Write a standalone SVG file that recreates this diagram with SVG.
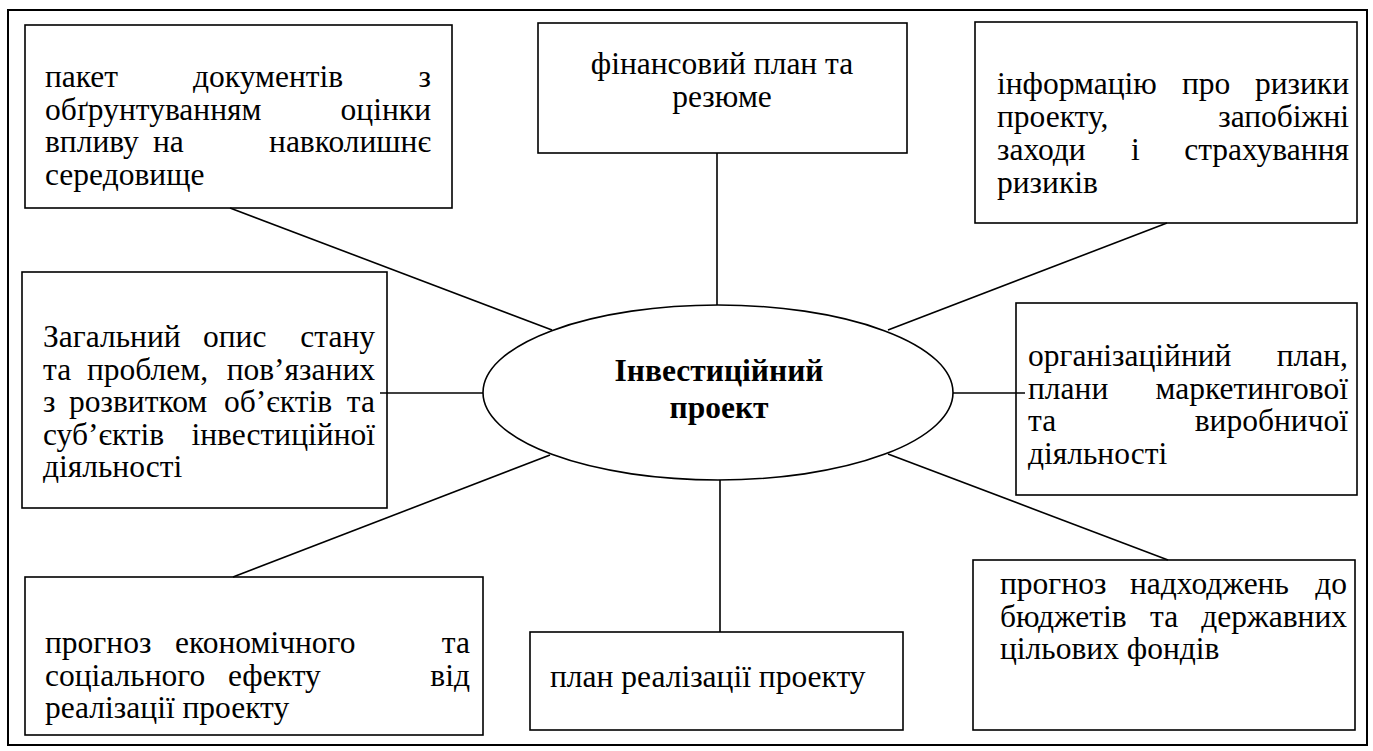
<svg xmlns="http://www.w3.org/2000/svg" width="1373" height="751" viewBox="0 0 1373 751">
<style>
.bx{fill:#fff;stroke:#000;stroke-width:1.6}
.ln{stroke:#000;stroke-width:1.6;fill:none}
.t{font-family:"Liberation Serif","Times New Roman",serif;font-size:31.5px;fill:#000}
.e{text-anchor:end}
.m{text-anchor:middle}
.b{font-family:"Liberation Serif","Times New Roman",serif;font-size:31.5px;font-weight:bold;fill:#000;text-anchor:middle}
</style>
<rect x="0" y="0" width="1373" height="751" fill="#fff"/>
<rect x="8" y="10" width="1359" height="735" fill="none" stroke="#000" stroke-width="2"/>
<g id="n1">
<rect class="bx" x="25" y="25" width="427" height="183"/>
<text class="t" x="45" y="87">пакет</text><text class="t" x="193" y="87">документів</text><text class="t e" x="431" y="87">з</text>
<text class="t" x="45" y="119.5">обґрунтуванням</text><text class="t e" x="431" y="119.5">оцінки</text>
<text class="t" x="45" y="152">впливу</text><text class="t" x="153" y="152">на</text><text class="t e" x="431" y="152">навколишнє</text>
<text class="t" x="45" y="184.5">середовище</text>
</g>
<g id="n2">
<rect class="bx" x="538" y="23" width="369" height="130"/>
<text class="t m" x="722" y="74">фінансовий план та</text>
<text class="t m" x="722" y="107">резюме</text>
</g>
<g id="n3">
<rect class="bx" x="975" y="22" width="382" height="201"/>
<text class="t" x="997" y="94">інформацію</text><text class="t" x="1182" y="94">про</text><text class="t e" x="1349" y="94">ризики</text>
<text class="t" x="997" y="127">проекту,</text><text class="t e" x="1349" y="127">запобіжні</text>
<text class="t" x="997" y="160">заходи</text><text class="t" x="1131" y="160">і</text><text class="t e" x="1349" y="160">страхування</text>
<text class="t" x="997" y="193">ризиків</text>
</g>
<g id="n4">
<rect class="bx" x="22" y="272" width="365" height="236"/>
<text class="t" x="43" y="347">Загальний</text><text class="t" x="203" y="347">опис</text><text class="t e" x="375" y="347">стану</text>
<text class="t" x="43" y="379.5">та</text><text class="t" x="87" y="379.5">проблем,</text><text class="t e" x="375" y="379.5">пов’язаних</text>
<text class="t" x="43" y="412">з</text><text class="t" x="69" y="412">розвитком</text><text class="t" x="224" y="412">об’єктів</text><text class="t e" x="375" y="412">та</text>
<text class="t" x="43" y="444.5">суб’єктів</text><text class="t e" x="375" y="444.5">інвестиційної</text>
<text class="t" x="43" y="477">діяльності</text>
</g>
<g id="center">
<ellipse cx="718" cy="392.5" rx="235" ry="87.5" fill="#fff" stroke="#000" stroke-width="1.6"/>
<text class="b" x="719" y="381">Інвестиційний</text>
<text class="b" x="719" y="418">проект</text>
</g>
<g id="n5">
<rect class="bx" x="1016" y="303" width="341" height="192"/>
<text class="t" x="1028" y="366">організаційний</text><text class="t e" x="1348" y="366">план,</text>
<text class="t" x="1028" y="398.5">плани</text><text class="t e" x="1348" y="398.5">маркетингової</text>
<text class="t" x="1028" y="431">та</text><text class="t e" x="1348" y="431">виробничої</text>
<text class="t" x="1028" y="463.5">діяльності</text>
</g>
<g id="n6">
<rect class="bx" x="25" y="577" width="458" height="158"/>
<text class="t" x="45" y="653">прогноз</text><text class="t" x="175" y="653">економічного</text><text class="t e" x="470" y="653">та</text>
<text class="t" x="45" y="685.5">соціального</text><text class="t" x="228" y="685.5">ефекту</text><text class="t e" x="470" y="685.5">від</text>
<text class="t" x="45" y="718">реалізації проекту</text>
</g>
<g id="n7">
<rect class="bx" x="530" y="632" width="373" height="98"/>
<text class="t" x="550" y="687">план реалізації проекту</text>
</g>
<g id="n8">
<rect class="bx" x="973" y="560" width="382" height="170"/>
<text class="t" x="1000" y="594">прогноз</text><text class="t" x="1130" y="594">надходжень</text><text class="t e" x="1347" y="594">до</text>
<text class="t" x="1000" y="626.5">бюджетів</text><text class="t" x="1150" y="626.5">та</text><text class="t e" x="1347" y="626.5">державних</text>
<text class="t" x="1000" y="659">цільових фондів</text>
</g>
<g id="connectors">
<line class="ln" x1="230" y1="208" x2="552" y2="330"/>
<line class="ln" x1="717" y1="153" x2="717" y2="305"/>
<line class="ln" x1="1167" y1="223" x2="888" y2="330"/>
<line class="ln" x1="380" y1="393" x2="483" y2="393"/>
<line class="ln" x1="953" y1="393" x2="1025" y2="393"/>
<line class="ln" x1="550" y1="455" x2="233" y2="577"/>
<line class="ln" x1="888" y1="454" x2="1168" y2="560"/>
<line class="ln" x1="720" y1="480" x2="720" y2="632"/>
</g>
</svg>
